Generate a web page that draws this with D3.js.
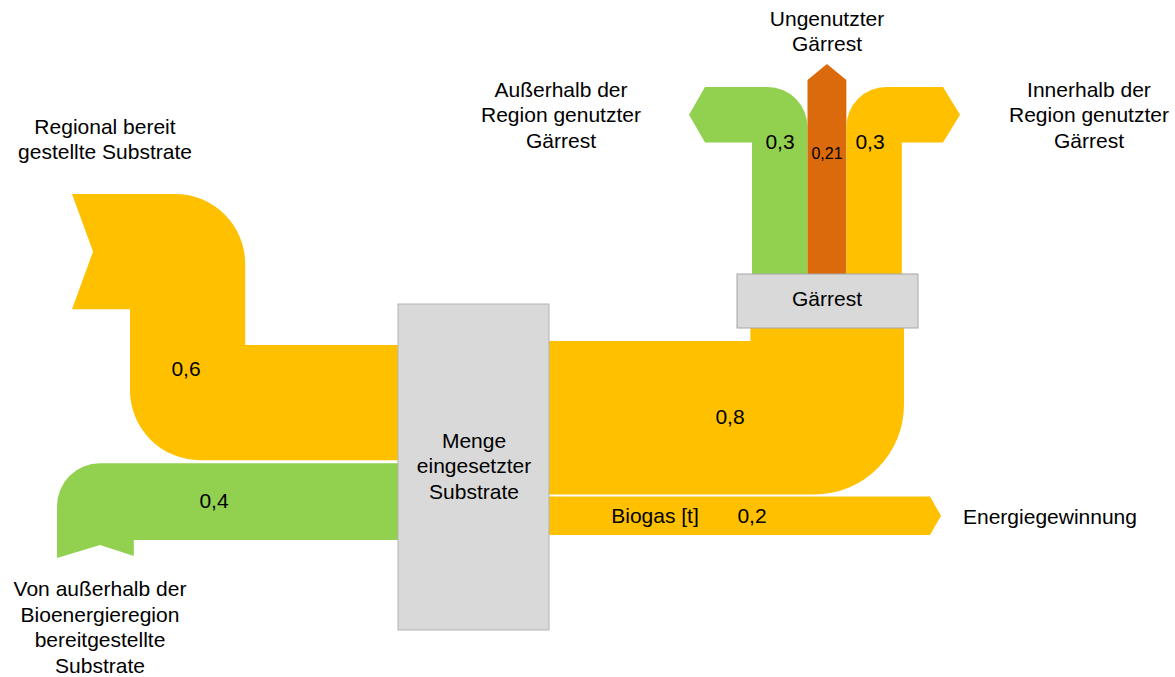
<!DOCTYPE html>
<html>
<head>
<meta charset="utf-8">
<script src="https://cdn.jsdelivr.net/npm/d3@7"></script>
<style>
  body { margin: 0; background: #fff; }
  text { font-family: "Liberation Sans", Arial, sans-serif; fill: #000; }
</style>
</head>
<body>
<div id="chart"></div>
<script>
// inputs into "Menge eingesetzter Substrate"
const inputNames = ['Regional bereit gestellte Substrate', 'Von außerhalb der Bioenergieregion bereitgestellte Substrate'];
const inputValues = [0.6, 0.4];
// outputs of the substrate box
const outputNames = ['Gärrest', 'Biogas [t]'];
const outputValues = [0.8, 0.2];
// use of the digestate
const digestNames = ['Außerhalb der Region genutzter Gärrest', 'Ungenutzter Gärrest', 'Innerhalb der Region genutzter Gärrest'];
const digestValues = [0.3, 0.21, 0.3];
const valueLabels = ['0,6', '0,4', '0,8', '0,2', '0,3', '0,21', '0,3'];

const width = 1175, height = 677;
const yellow = '#FFC000', green = '#92D050', orange = '#DA6A0C';
const fs = 21;

// flow value -> band thickness
const w = d3.scaleLinear().domain([0, 1]).range([0, 192]);
const wd = d3.scaleLinear().domain([0, 1]).range([0, 185]);

const svg = d3.select('#chart').append('svg')
  .attr('width', width)
  .attr('height', height);

// main node
const box = { x0: 398, x1: 549, y0: 304, y1: 630 };
const gbox = { x0: 737, x1: 918, y0: 274, y1: 328 };

// --- regional substrates (yellow, 0.6)
const inTop = 345;
const h0 = w(inputValues[0]);
{
  const vLeft = 130, vRight = vLeft + h0, top = 194, tail = 72, r = 70;
  const p = d3.path();
  p.moveTo(tail, top);
  p.arcTo(vRight, top, vRight, inTop, r);
  p.lineTo(vRight, inTop);
  p.lineTo(box.x0, inTop);
  p.lineTo(box.x0, inTop + h0);
  p.arcTo(vLeft, inTop + h0, vLeft, top + h0, r);
  p.lineTo(vLeft, top + h0);
  p.lineTo(tail, top + h0);
  p.lineTo(tail + 21, top + h0 / 2);
  p.closePath();
  svg.append('path').attr('d', p.toString()).attr('fill', yellow);
}

// --- external substrates (green, 0.4)
const h1 = w(inputValues[1]);
const in2Top = inTop + h0 + 3;
{
  const vLeft = 57, vRight = vLeft + h1, r = 43, bottom = 558;
  const p = d3.path();
  p.moveTo(box.x0, in2Top);
  p.arcTo(vLeft, in2Top, vLeft, bottom, r);
  p.lineTo(vLeft, bottom);
  p.lineTo(vLeft + 43, bottom - 13);
  p.lineTo(vRight, bottom - 2);
  p.lineTo(vRight, in2Top + h1);
  p.lineTo(box.x0, in2Top + h1);
  p.closePath();
  svg.append('path').attr('d', p.toString()).attr('fill', green);
}

// --- digestate out of the box (yellow, 0.8)
const outTop = 341;
const h2 = w(outputValues[0]);
{
  const vRight = 904, vLeft = vRight - h2, r = 90, up = 300;
  const p = d3.path();
  p.moveTo(box.x1, outTop);
  p.lineTo(vLeft, outTop);
  p.lineTo(vLeft, up);
  p.lineTo(vRight, up);
  p.arcTo(vRight, outTop + h2, box.x1, outTop + h2, r);
  p.lineTo(box.x1, outTop + h2);
  p.closePath();
  svg.append('path').attr('d', p.toString()).attr('fill', yellow);
}

// --- biogas (yellow, 0.2)
const h3 = w(outputValues[1]);
const bioTop = outTop + h2 + 2;
{
  const end = 930, tip = 941;
  const p = d3.path();
  p.moveTo(box.x1, bioTop);
  p.lineTo(end, bioTop);
  p.lineTo(tip, bioTop + h3 / 2);
  p.lineTo(end, bioTop + h3);
  p.lineTo(box.x1, bioTop + h3);
  p.closePath();
  svg.append('path').attr('d', p.toString()).attr('fill', yellow);
}

// --- digestate uses
const dx = [752];
digestValues.forEach((v, i) => dx.push(dx[i] + wd(v)));
const dTop = 87, dBase = gbox.y0 + 10, dr = 40;
{
  // outside region (green, left turn)
  const hl = wd(digestValues[0]);
  const p = d3.path();
  p.moveTo(dx[0], dBase);
  p.lineTo(dx[0], dTop + hl);
  p.lineTo(705, dTop + hl);
  p.lineTo(689, dTop + hl / 2);
  p.lineTo(705, dTop);
  p.arcTo(dx[1], dTop, dx[1], dBase, dr);
  p.lineTo(dx[1], dBase);
  p.closePath();
  svg.append('path').attr('d', p.toString()).attr('fill', green);

  // unused (orange, straight up)
  const q = d3.path();
  q.moveTo(dx[1], dBase);
  q.lineTo(dx[1], 80);
  q.lineTo((dx[1] + dx[2]) / 2, 64);
  q.lineTo(dx[2], 80);
  q.lineTo(dx[2], dBase);
  q.closePath();
  svg.append('path').attr('d', q.toString()).attr('fill', orange);

  // inside region (yellow, right turn)
  const hr = wd(digestValues[2]);
  const s = d3.path();
  s.moveTo(dx[2], dBase);
  s.arcTo(dx[2], dTop, 943, dTop, dr);
  s.lineTo(943, dTop);
  s.lineTo(960, dTop + hr / 2);
  s.lineTo(943, dTop + hr);
  s.lineTo(dx[3], dTop + hr);
  s.lineTo(dx[3], dBase);
  s.closePath();
  svg.append('path').attr('d', s.toString()).attr('fill', yellow);
}

// nodes
svg.append('rect')
  .attr('x', box.x0).attr('y', box.y0)
  .attr('width', box.x1 - box.x0).attr('height', box.y1 - box.y0)
  .attr('fill', '#D9D9D9').attr('stroke', '#B3B3B3').attr('stroke-width', 1);
svg.append('rect')
  .attr('x', gbox.x0).attr('y', gbox.y0)
  .attr('width', gbox.x1 - gbox.x0).attr('height', gbox.y1 - gbox.y0)
  .attr('fill', '#D9D9D9').attr('stroke', '#A6A6A6').attr('stroke-width', 1);

// text helper: lines centred on (x, y) with given spacing
function label(lines, x, y, size, anchor) {
  const t = svg.append('text')
    .attr('x', x)
    .attr('text-anchor', anchor || 'middle')
    .style('font-size', size + 'px');
  const lh = 25.6;
  const y0 = y - (lines.length - 1) * lh / 2;
  lines.forEach((l, i) => {
    t.append('tspan').attr('x', x).attr('y', y0 + i * lh).attr('dy', '0.35em').text(l);
  });
}

label(['Regional bereit', 'gestellte Substrate'], 105, 139, fs);
label(['Von außerhalb der', 'Bioenergieregion', 'bereitgestellte', 'Substrate'], 100, 627, fs);
label(['Außerhalb der', 'Region genutzter', 'Gärrest'], 561, 115, fs);
label(['Ungenutzter', 'Gärrest'], 827, 31, fs);
label(['Innerhalb der', 'Region genutzter', 'Gärrest'], 1089, 115, fs);
label(['Energiegewinnung'], 963, 517, fs, 'start');
label(['Menge', 'eingesetzter', 'Substrate'], 474, 466, fs);
label([outputNames[0]], 827, 299, fs);
label([outputNames[1]], 655, 516, fs);

// flow values
label([valueLabels[0]], 186, 369, fs);
label([valueLabels[1]], 214, 501, fs);
label([valueLabels[2]], 730, 417, fs);
label([valueLabels[3]], 752, 516, fs);
label([valueLabels[4]], 780, 142, fs);
label([valueLabels[5]], 827, 153, 16);
label([valueLabels[6]], 870, 142, fs);
</script>
</body>
</html>
